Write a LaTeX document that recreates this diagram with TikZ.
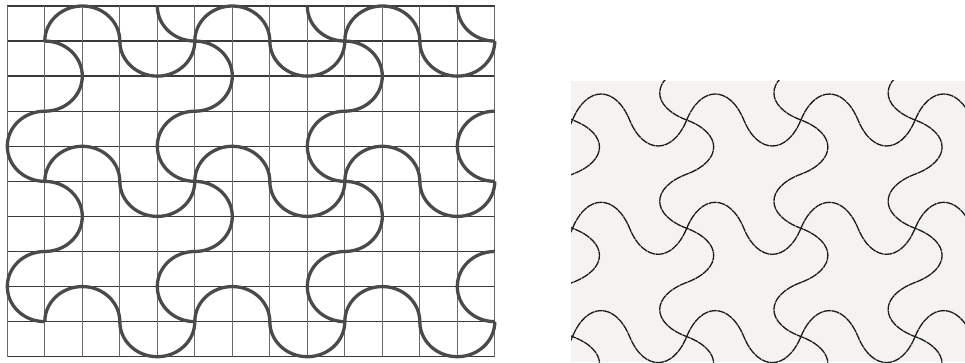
\documentclass[tikz,border=0pt]{standalone}
\definecolor{gridh}{HTML}{3A3A3A}
\definecolor{gridv}{HTML}{6A6A6A}
\definecolor{curvec}{HTML}{4A4A4A}
\definecolor{panelbg}{HTML}{F4F3F1}
\definecolor{stitch}{HTML}{1A1A1A}
\tikzset{
  hline/.style={draw=gridh, line width=1.3pt},
  vline/.style={draw=gridv, line width=0.9pt},
  heavycurve/.style={draw=curvec, line width=3.3pt},
  stitchline/.style={draw=stitch, line width=1.3pt, dash pattern=on 8pt off 0.6pt},
}
\begin{document}
\begin{tikzpicture}
\useasboundingbox (0,0) rectangle (965pt,362pt);
\fill[white] (0,0) rectangle (965pt,362pt);
% ---------- left panel: grid with semicircle waves ----------
\begin{scope}[shift={(7.3pt,356pt)}, x=37.5pt, y=-35.07pt]
  \foreach \ri in {0,...,10} \draw[hline] (0,\ri) -- (13,\ri);
  \foreach \ci in {0,...,13} \draw[vline] (\ci,0) -- (\ci,10);
  \def\kk{0.5523}
  % horizontal waves on rows 1, 5, 9
  \foreach \ri in {1,5,9} {
    \draw[heavycurve] (1,\ri) \foreach \ci in {1,5,9} {
      .. controls (\ci,{\ri-\kk}) and ({\ci+1-\kk},{\ri-1}) .. ({\ci+1},{\ri-1})
      .. controls ({\ci+1+\kk},{\ri-1}) and ({\ci+2},{\ri-\kk}) .. ({\ci+2},\ri)
      .. controls ({\ci+2},{\ri+\kk}) and ({\ci+3-\kk},{\ri+1}) .. ({\ci+3},{\ri+1})
      .. controls ({\ci+3+\kk},{\ri+1}) and ({\ci+4},{\ri+\kk}) .. ({\ci+4},\ri)
    };
  }
  % vertical waves on columns 1, 5, 9
  \foreach \ci in {1,5,9} {
    \draw[heavycurve] (\ci,1) \foreach \ri in {1,5} {
      .. controls ({\ci+\kk},\ri) and ({\ci+1},{\ri+1-\kk}) .. ({\ci+1},{\ri+1})
      .. controls ({\ci+1},{\ri+1+\kk}) and ({\ci+\kk},{\ri+2}) .. (\ci,{\ri+2})
      .. controls ({\ci-\kk},{\ri+2}) and ({\ci-1},{\ri+3-\kk}) .. ({\ci-1},{\ri+3})
      .. controls ({\ci-1},{\ri+3+\kk}) and ({\ci-\kk},{\ri+4}) .. (\ci,{\ri+4})
    };
  }
  % column 13: only the left halves are inside
  \foreach \ri in {1,5} {
    \draw[heavycurve] (13,{\ri+2})
      .. controls ({13-\kk},{\ri+2}) and (12,{\ri+3-\kk}) .. (12,{\ri+3})
      .. controls (12,{\ri+3+\kk}) and ({13-\kk},{\ri+4}) .. (13,{\ri+4});
  }
  % quarter arcs at the top edge
  \foreach \ci in {5,9,13} {
    \draw[heavycurve] ({\ci-1},0) .. controls ({\ci-1},\kk) and ({\ci-\kk},1) .. (\ci,1);
  }
\end{scope}
% ---------- right panel: quilted version ----------
\fill[panelbg] (571pt,0) rectangle (965pt,281pt);
\begin{scope}
  \clip (571pt,0) rectangle (965pt,281pt);
  \begin{scope}[shift={(572.5pt,242pt)}, x=114.2pt, y=-108.3pt]
    \def\ah{0.32}
    \def\av{0.315}
    \foreach \vi in {0,1,2} {
      \draw[stitchline] (-1,\vi) \foreach \ui in {-1,0,1,2,3} {
        .. controls ({\ui+0.125},{\vi-\ah}) and ({\ui+0.375},{\vi-\ah}) .. ({\ui+0.5},\vi)
        .. controls ({\ui+0.625},{\vi+\ah}) and ({\ui+0.875},{\vi+\ah}) .. ({\ui+1},\vi)
      };
    }
    \foreach \ui in {0,1,2,3} {
      \draw[stitchline] (\ui,-1) \foreach \vi in {-1,0,1,2} {
        .. controls ({\ui+\av},{\vi+0.125}) and ({\ui+\av},{\vi+0.375}) .. (\ui,{\vi+0.5})
        .. controls ({\ui-\av},{\vi+0.625}) and ({\ui-\av},{\vi+0.875}) .. (\ui,{\vi+1})
      };
    }
  \end{scope}
\end{scope}
\end{tikzpicture}
\end{document}
